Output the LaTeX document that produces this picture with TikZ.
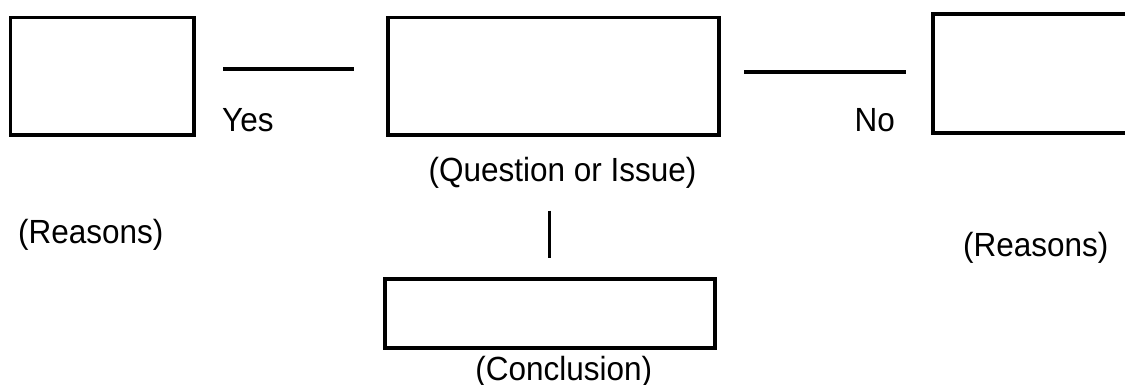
\documentclass[tikz,border=0pt]{standalone}
\usepackage{fontspec}
\setmainfont[FakeStretch=0.94]{Liberation Sans}
\begin{document}
\begin{tikzpicture}[x=1pt,y=-1pt,
  box/.style={draw, line width=3.8pt, inner sep=0pt},
  link/.style={line width=3.8pt},
  lbl/.style={inner sep=0pt, font=\fontsize{33.5}{40}\selectfont}]
\useasboundingbox (0,0) rectangle (1125,384);
\clip (0,0) rectangle (1125,384);
% boxes
\node[box, minimum width=183.5pt, minimum height=117.8pt] (reasonsL) at (102.25,76.4) {};
\node[box, minimum width=330.7pt, minimum height=117.8pt] (question) at (553.35,76.4) {};
\node[box, minimum width=207.2pt, minimum height=119pt] (reasonsR) at (1036.4,73.3) {};
\node[box, minimum width=330pt, minimum height=68.7pt] (conclusion) at (550.3,313.65) {};
% connector ends
\coordinate (yesA) at (223,68.8);
\coordinate (yesB) at (354,68.8);
\coordinate (noA) at (744,72.3);
\coordinate (noB) at (906,72.3);
\coordinate (vA) at (549.5,210.7);
\coordinate (vB) at (549.5,258.3);
\draw[link] (yesA) -- (yesB);
\draw[link] (noA) -- (noB);
\draw[link] (vA) -- (vB);
% labels
\node[lbl, anchor=base west] (yes) at (222,131.7) {Yes};
\node[lbl, anchor=base west] (no) at (854.5,131.7) {No};
\node[lbl, anchor=base] (qlbl) at (562.5,181.7) {(Question or Issue)};
\node[lbl, anchor=base west] (rl) at (18,243.3) {(Reasons)};
\node[lbl, anchor=base west] (rr) at (963,256.7) {(Reasons)};
\node[lbl, anchor=base] (clbl) at (563.8,380.5) {(Conclusion)};
\end{tikzpicture}
\end{document}
